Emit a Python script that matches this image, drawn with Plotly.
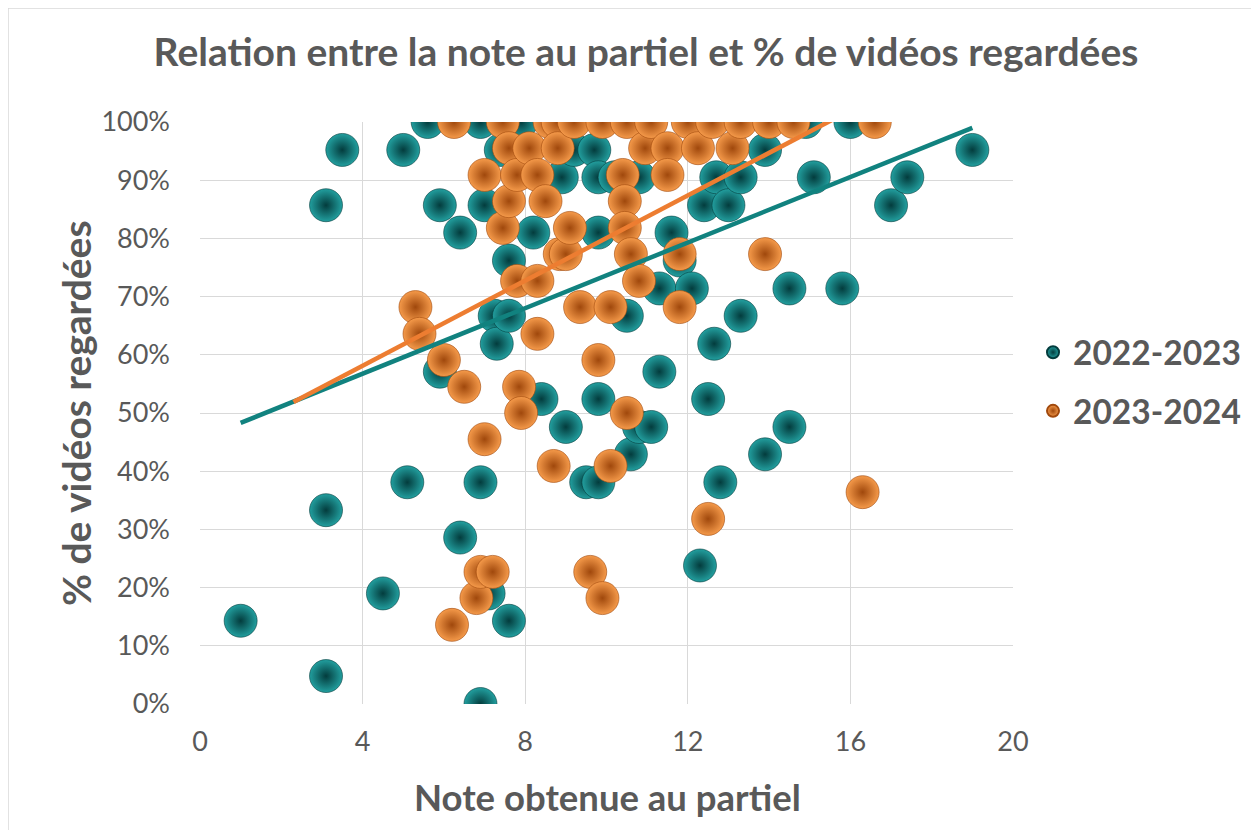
import plotly.graph_objects as go

# ---- data ----
series_names = ["2022-2023", "2023-2024"]

x_2022 = [1.0, 3.1, 3.1, 3.1, 3.5, 4.5, 5.0, 5.1, 5.6, 5.9, 5.9, 6.4, 6.4, 6.9, 6.9, 6.9,
          7.0, 7.1, 7.25, 7.3, 7.4, 7.6, 7.6, 7.6, 7.9, 8.2, 8.4, 8.9, 9.0, 9.2, 9.5, 9.7,
          9.8, 9.8, 9.8, 9.8, 10.2, 10.5, 10.6, 10.8, 10.8, 11.1, 11.3, 11.3, 11.6, 11.8,
          12.1, 12.3, 12.4, 12.5, 12.65, 12.7, 12.8, 13.0, 13.3, 13.3, 13.9, 13.9, 14.5,
          14.5, 14.9, 15.1, 15.8, 16.0, 17.0, 17.4, 19.0]
y_2022 = [14.3, 4.8, 33.3, 85.7, 95.2, 19.0, 95.2, 38.1, 100, 85.7, 57.1, 81.0, 28.6, 0, 38.1, 100,
          85.7, 19.0, 66.7, 61.9, 95.2, 76.2, 66.7, 14.3, 100, 81.0, 52.4, 90.5, 47.6, 95.2, 38.1, 95.2,
          90.5, 81.0, 52.4, 38.1, 90.5, 66.7, 42.9, 90.5, 47.6, 47.6, 71.4, 57.1, 81.0, 76.2,
          71.4, 23.8, 85.7, 52.4, 61.9, 90.5, 38.1, 85.7, 66.7, 90.5, 95.2, 42.9, 71.4,
          47.6, 100, 90.5, 71.4, 100, 85.7, 90.5, 95.2]

x_2023 = [5.3, 5.4, 6.0, 6.2, 6.25, 6.5, 6.8, 6.9, 7.0, 7.0, 7.2, 7.45, 7.45, 7.6, 7.6, 7.8,
          7.8, 7.85, 7.9, 8.1, 8.3, 8.3, 8.3, 8.5, 8.6, 8.7, 8.8, 8.8, 8.85, 9.0, 9.1, 9.2,
          9.35, 9.6, 9.8, 9.9, 9.9, 10.1, 10.1, 10.4, 10.45, 10.45, 10.5, 10.5, 10.6, 10.8,
          10.95, 11.1, 11.5, 11.5, 11.8, 11.8, 12.0, 12.25, 12.5, 12.6, 13.1, 13.3, 13.9,
          14.0, 14.6, 16.3, 16.6]
y_2023 = [68.2, 63.6, 59.1, 13.6, 100, 54.5, 18.2, 22.7, 90.9, 45.5, 22.7, 100, 81.8, 95.5, 86.4, 90.9,
          72.7, 54.5, 50.0, 95.5, 90.9, 72.7, 63.6, 86.4, 100, 40.9, 100, 95.5, 77.3, 77.3, 81.8, 100,
          68.2, 22.7, 59.1, 18.2, 100, 68.2, 40.9, 90.9, 86.4, 81.8, 100, 50.0, 77.3, 72.7,
          95.5, 100, 95.5, 90.9, 77.3, 68.2, 100, 95.5, 31.8, 100, 95.5, 100, 77.3,
          100, 100, 36.4, 100]

# linear trendlines (end points)
trend_x_2022 = [1.0, 19.0]
trend_y_2022 = [48.3, 99.0]
trend_x_2023 = [2.3, 16.6]
trend_y_2023 = [51.9, 104.2]

x_ticks = [0, 4, 8, 12, 16, 20]
y_ticks = [0, 10, 20, 30, 40, 50, 60, 70, 80, 90, 100]
y_tick_labels = ["0%", "10%", "20%", "30%", "40%", "50%", "60%", "70%", "80%", "90%", "100%"]

# ---- styling ----
TEAL_LIGHT, TEAL_DARK, TEAL_LINE = "#229f9f", "#033c3d", "#11827f"
ORANGE_LIGHT, ORANGE_DARK, ORANGE_LINE = "#f59a4a", "#a0480c", "#ed7d31"
GREY = "#595959"
FONT = "Lato"

fig = go.Figure()

fig.add_trace(go.Scatter(
    x=x_2022, y=y_2022, mode="markers", name="<b>" + series_names[0] + "</b>", legendgroup="a",
    marker=dict(size=33, color=TEAL_LIGHT, line=dict(width=0.6, color=TEAL_DARK),
                gradient=dict(type="radial", color=TEAL_DARK)),
))
fig.add_trace(go.Scatter(
    x=x_2023, y=y_2023, mode="markers", name="<b>" + series_names[1] + "</b>", legendgroup="b",
    marker=dict(size=33, color=ORANGE_LIGHT, line=dict(width=0.6, color=ORANGE_DARK),
                gradient=dict(type="radial", color=ORANGE_DARK)),
))
fig.add_trace(go.Scatter(
    x=trend_x_2022, y=trend_y_2022, mode="lines", showlegend=False, hoverinfo="skip",
    line=dict(color=TEAL_LINE, width=4.5),
))
fig.add_trace(go.Scatter(
    x=trend_x_2023, y=trend_y_2023, mode="lines", showlegend=False, hoverinfo="skip",
    line=dict(color=ORANGE_LINE, width=4.5),
))

OFF = 8  # page body margin in the screenshot
W, H = 1259, 830
PX0, PX1, PY0, PY1 = 200 - OFF, 1013 - OFF, 122 - OFF, 704 - OFF  # plot area in page px
L, T = PX0, PY0
R, B = W - PX1, H - PY1
pw, ph = PX1 - PX0, PY1 - PY0


def px_x(p):
    return (p - OFF - PX0) / pw


def px_y(p):
    return (PY1 - (p - OFF)) / ph


fig.update_layout(
    width=W, height=H,
    margin=dict(l=L, r=R, t=T, b=B, autoexpand=False),
    paper_bgcolor="white", plot_bgcolor="white",
    title=dict(text="<b>Relation entre la note au partiel et % de vidéos regardées</b>",
               x=(646 - OFF) / W, xanchor="center", y=1 - (52 - OFF) / H, yanchor="middle",
               yref="container", xref="container",
               font=dict(family=FONT, size=39, color=GREY)),
    xaxis=dict(range=[0, 20], tickvals=x_ticks, showgrid=True, gridcolor="#d9d9d9", gridwidth=1.3,
               zeroline=False, showline=False, ticks="", ticklabelstandoff=19,
               tickfont=dict(family=FONT, size=27, color=GREY)),
    yaxis=dict(range=[0, 100], tickvals=y_ticks, ticktext=y_tick_labels, showgrid=True,
               gridcolor="#d9d9d9", gridwidth=1.3, zeroline=False, showline=False, ticks="",
               ticklabelstandoff=29, tickfont=dict(family=FONT, size=27, color=GREY)),
    legend=dict(x=px_x(1033), y=px_y(382), xanchor="left", yanchor="middle",
                font=dict(family=FONT, size=33.5, color=GREY), tracegroupgap=12,
                itemsizing="constant", bgcolor="rgba(0,0,0,0)"),
    annotations=[
        dict(text="<b>% de vidéos regardées</b>", textangle=-90, xref="paper", yref="paper",
             x=px_x(76), y=px_y(413), xanchor="center", yanchor="middle",
             showarrow=False, font=dict(family=FONT, size=39, color=GREY)),
        dict(text="<b>Note obtenue au partiel</b>", xref="paper", yref="paper",
             x=px_x(607), y=px_y(797), xanchor="center", yanchor="middle",
             showarrow=False, font=dict(family=FONT, size=36.5, color=GREY)),
    ],
    shapes=[dict(type="rect", xref="paper", yref="paper",
                 x0=px_x(8), x1=px_x(W + 40),
                 y0=px_y(H + 40), y1=px_y(8),
                 line=dict(color="#d9d9d9", width=1.5), layer="below")],
)

fig.write_html("out.html")
